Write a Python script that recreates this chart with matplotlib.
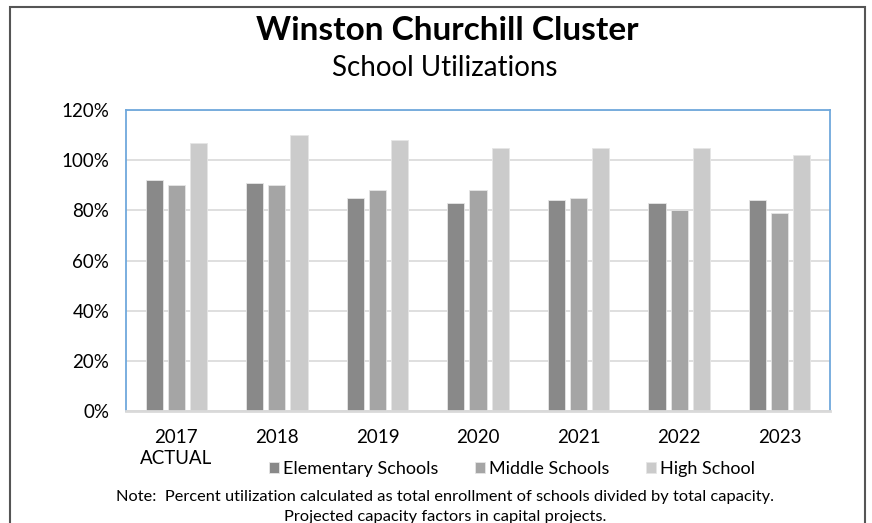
import matplotlib
matplotlib.use("Agg")
import matplotlib.pyplot as plt
import numpy as np
from matplotlib.patches import Rectangle

categories = ["2017\nACTUAL", "2018", "2019", "2020", "2021", "2022", "2023"]
elementary = [92, 91, 85, 83, 84, 83, 84]
middle = [90, 90, 88, 88, 85, 80, 79]
high = [107, 110, 108, 105, 105, 105, 102]
series_names = ["Elementary Schools", "Middle Schools", "High School"]
colors = ["#898989", "#a5a5a5", "#cbcbcb"]
yticks = [0, 20, 40, 60, 80, 100, 120]

plt.rcParams['font.family'] = ['Lato', 'DejaVu Sans']

W, H = 872, 523
fig = plt.figure(figsize=(W / 100, H / 100), dpi=100)

def fx(px):
    return px / W

def fy(py):
    return 1 - py / H

# outer frame
fig.patches.append(Rectangle((fx(10), fy(540)), fx(865) - fx(10), fy(7) - fy(540),
                             transform=fig.transFigure, fill=False,
                             edgecolor="#555555", linewidth=1.5))

ax = fig.add_axes([fx(126), fy(411), fx(830) - fx(126), fy(110) - fy(411)])
x = np.arange(len(categories))
bw = 0.17
step = 0.22
for i, (vals, name, c) in enumerate(zip([elementary, middle, high], series_names, colors)):
    ax.bar(x + (i - 1) * step, vals, width=bw, color=c, label=name,
           edgecolor="#e6e6e6", linewidth=0.6, zorder=3)

ax.set_xlim(-0.5, len(categories) - 0.5)
ax.set_ylim(0, 120)
ax.set_yticks(yticks)
ax.set_yticklabels([f"{v}%" for v in yticks], fontsize=13.5)
ax.set_xticks(x)
ax.set_xticklabels(categories, fontsize=13.5, linespacing=1.25)
ax.tick_params(axis='y', length=0, pad=12)
ax.tick_params(axis='x', length=0, pad=13)
ax.grid(axis='y', color="#d9d9d9", linewidth=1.2, zorder=0)
for s in ["left", "top", "right"]:
    ax.spines[s].set_color("#6fa8dc")
    ax.spines[s].set_linewidth(1.3)
ax.spines["bottom"].set_color("#d9d9d9")
ax.spines["bottom"].set_linewidth(2)
ax.spines["bottom"].set_zorder(4)

fig.text(fx(447), fy(30), "Winston Churchill Cluster", ha="center", va="center",
         fontsize=24, fontweight="bold")
fig.text(fx(445), fy(68), "School Utilizations", ha="center", va="center",
         fontsize=20)

leg = fig.legend(*ax.get_legend_handles_labels(), loc="center",
                 bbox_to_anchor=(fx(512), fy(469)), ncol=3, frameon=False,
                 fontsize=13, handlelength=0.55, handleheight=0.55,
                 handletextpad=0.25, columnspacing=2.0)

fig.text(fx(445), fy(497), "Note:  Percent utilization calculated as total enrollment of schools divided by total capacity.",
         ha="center", va="center", fontsize=11.8)
fig.text(fx(445), fy(517), "Projected capacity factors in capital projects.",
         ha="center", va="center", fontsize=11.8)

fig.savefig("out.png", dpi=100)
